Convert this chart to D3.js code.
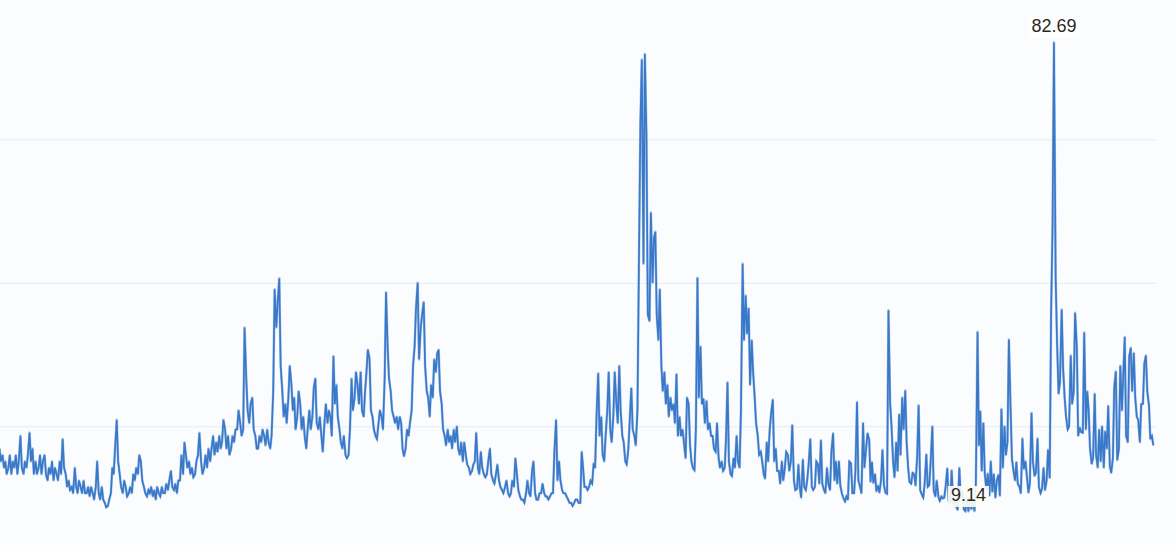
<!DOCTYPE html>
<html><head><meta charset="utf-8">
<script src="https://cdn.jsdelivr.net/npm/d3@7"></script>
<style>html,body{margin:0;padding:0;background:#fafcfe;overflow:hidden}</style>
</head><body><svg id="c" width="1176" height="545"></svg>
<script>
// Two readings per month (around day 8 and day 22), chronological, starting Jan 1991
const startYear = 1991;
const readingDays = [8, 22];
const vix1990s = [
  19,17, 18,16, 17,15, 16,18, 15,17, 16,18, 15,17, 21,16, 15,17, 16,18, 21.5,17, 19,15,
  17,15, 16,18, 15,17, 18,15, 14,16, 15,17, 14,16, 15,14, 17,15, 20.5,16, 15,13, 14,12.5,
  13,12, 16,13, 12,14, 13,12, 14,12, 12,13, 11.5,13, 12,11, 13,17, 12,11, 13,11, 10.5,9.8,
  10,11, 12,16, 15,19, 23.5,17, 15,13, 12,14, 13,11.5, 12,13, 12,15, 14,16, 15,18, 17,14,
  13,12, 11.5,12.5, 12,13, 11.5,12.5, 11,13, 12,11.5, 13,12, 12,13.5, 12.5,14, 15.5,13, 12.5,13.5, 12,14,
  14,18, 15,20, 18,16, 17,15, 16,14.5, 15,17, 18,21.5, 17,15, 16,18, 16,19, 17,19, 21,18,
  20,18.5, 21,19, 20,23.5, 22,19, 21,18, 19,21, 20,22, 22,25, 23,21, 22,38, 30,25, 23,26,
  27,22, 21,19, 19,21, 20,22, 21,19.5, 22,20, 19,21, 28,44, 38,42, 45.7,32, 28,24, 26,23,
  27,32, 29,25, 27,22, 24,28, 26,22, 24,21, 19,22, 25,22, 24,28.5, 30,23, 22,24, 21,18.5
];
const vix2000s = [
  23,26, 23,25, 24,21, 33.5,26, 29,24, 22,20, 19,21, 18,17.5, 18,22, 30,25, 27,31, 29,26,
  31,25, 24,28, 31,34.5, 33,25, 24,22, 21,20.5, 23,25, 24,22, 30,43.5, 35,30, 28,25, 24,23,
  24,22, 24,23, 19,17.8, 19,22, 21,23, 25,32, 35,41, 45,33, 38,40, 42,32, 28,27, 24,29,
  27,33, 31,34, 34.5,28, 26,22, 21,19.5, 22,20, 21,19, 22,20, 22.5,19, 18,20, 17,20, 18,16.5,
  16,15, 15.5,16.5, 17,21.5, 16,15, 18.5,16, 15,14.5, 15,17, 19,15, 14,13.5, 15,16.5, 14,13, 12.5,12,
  13,14, 12,11.5, 12,14, 13,17.5, 15,12.5, 11.5,11, 11,10.5, 12,14, 12,11.5, 15.5,17, 12,11, 11,12,
  12,13.5, 12,11.5, 11.5,11, 11.5,12, 12,18.5, 23.5,14, 17,14, 12.5,12, 12,11.5, 11,10.5, 10.5,10, 10.5,11,
  11,10.5, 10.5,18.5, 16,13, 13,12.5, 13,14, 13.5,16.5, 16,24, 30.8,21, 24,18, 17,21, 25,31, 22,20,
  24,31, 26,23, 32,25, 21,20, 17,16.5, 19,23.5, 28.5,22, 21,19.5, 25,46.7, 70,80, 48,80.86, 68,40,
  39,56, 45,52, 53,40, 36,44, 32,28, 31,26, 29,24, 27,25, 26,23, 30.7,21, 24,21, 22,20
];
const vix2010s = [
  17.5,27, 26,19.5, 17,16, 15.6,22, 45.8,27, 35,26, 26.8,23, 26.5,22, 23,21, 21,19, 18.5,23, 17.5,16,
  17,15.5, 16,21, 29.4,17, 15,14.7, 17.5,16, 21,17, 16,25, 48,36, 43,37, 41,29, 36,31, 27,23,
  21,18, 18.5,17, 15,14.3, 20,17, 22,24.5, 26.7,17, 19,15.5, 15.5,13.5, 17,14, 16,18.5, 18,15.5, 17,22.7,
  14,12.5, 12.7,16.5, 13,11.3, 17.3,13, 12.5,14, 17,20.5, 13,12.5, 13,17, 16.5,13.5, 20.3,13.5, 12.5,12, 16,13.5,
  12.5,18.5, 21.4,14, 17,13.5, 17,13.2, 12,11.3, 10.7,11.5, 11,17, 16.7,12, 12,15.5, 26.3,14, 13,12, 23,16,
  19,21.4, 20.4,13.8, 16.9,13.6, 15,12.3, 13.2,12.1, 14,18.8, 13.2,12.1, 11.9,40.7, 26,22.5, 17,14.5, 20,15.5, 24.4,18,
  27,22, 28.1,20, 16,13.8, 13.5,15.2, 15,13.2, 18,25.8, 12.5,11.9, 11.3,13.5, 18.1,13, 13.3,17, 22.5,12.4, 11.5,14,
  11.5,10.8, 11.5,11.2, 11.3,13, 15.9,10.8, 10.4,15.6, 10.3,11, 9.9,9.4, 16,11.3, 12.3,9.5, 9.2,11.3, 9.14,11.3, 9.5,11,
  9.2,13.5, 37.3,19.5, 24.9,15.5, 23,15.2, 12.6,15.1, 11.6,17, 12.2,15, 11.3,14, 14.9,11.6, 25.2,16, 22.5,18, 20,36.1,
  25.4,17.4, 15.4,14, 16.9,13.5, 13,12, 20.6,15.8, 17,14.7, 12.1,13.5, 24.6,17, 14.7,15.3, 20.6,13, 12,12.7, 16,12.5
];
const vix2020s = [
  14,18.8, 14.4,40.1, 54,82.69, 46,35.9, 27.6,29.5, 40.8,31.8, 27,24.1, 22,22.5, 33.6,26, 28,40.3, 35,21, 22.3,21.6,
  21.5,37.2, 22,28, 25,19, 16.6,17.6, 27.6,18, 16,22, 17,22.5, 16,21.7, 19,25.7, 16.3,15.2, 17.5,28.6, 31.1,17.2,
  19,32, 25,31, 36.5,21, 20,33.4, 34.8,28, 34,27, 24,23.5, 20,26, 26,32.3, 33.6,28, 25.8,20.5, 21,19.5
];
const gridValues = [22.5, 45, 67.5, 90];

const values = [].concat(vix1990s, vix2000s, vix2010s, vix2020s);
const data = values.map((v, i) => {
  const m = Math.floor(i / 2);
  return { date: new Date(startYear + Math.floor(m / 12), m % 12, readingDays[i % 2]), value: v };
});

const svg = d3.select("#c");
svg.append("rect").attr("width", 1176).attr("height", 545).attr("fill", "#fafcfe");

const x = d3.scaleTime().domain([new Date(1991, 0, 1), new Date(2023, 0, 1)]).range([-1.2, 1154.3]);
const y = d3.scaleLinear().domain([0, 90]).range([569.8, -4.2]);

// gridlines (axis itself sits outside the cropped view)
const gAxis = svg.append("g").attr("transform", "translate(-40,0)")
  .call(d3.axisLeft(y).tickValues(gridValues).tickSize(-1197).tickFormat(""));
gAxis.select(".domain").remove();
gAxis.selectAll(".tick line").attr("stroke", "#e6ecf3").attr("stroke-width", 1);

const line = d3.line().x(d => x(d.date)).y(d => y(d.value));
// soft underlay + main stroke to mimic the dense band of the original
svg.append("path").datum(data)
  .attr("fill", "none")
  .attr("stroke", "#6f9fe0")
  .attr("stroke-width", 2.6)
  .attr("stroke-opacity", 0.55)
  .attr("stroke-linejoin", "round")
  .attr("d", line);
svg.append("path").datum(data)
  .attr("fill", "none")
  .attr("stroke", "#3a78c8")
  .attr("stroke-width", 1.7)
  .attr("d", line);

// max / min labels
const maxD = data.reduce((a, b) => b.value > a.value ? b : a);
const minD = data.reduce((a, b) => b.value < a.value ? b : a);
[maxD, minD].forEach((d, k) => {
  const cx = x(d.date), by = y(d.value) - 10.5;
  const g = svg.append("g");
  const t = g.append("text")
    .attr("x", cx).attr("y", by)
    .attr("text-anchor", "middle")
    .attr("font-family", "Liberation Sans, Arial, sans-serif")
    .attr("font-size", 18)
    .attr("fill", "#2a2a22")
    .text(d3.format(".2f")(d.value).replace(/0$/, "").replace(/\.$/, ""));
  const bb = t.node().getBBox();
  g.insert("rect", "text")
    .attr("x", bb.x - 3).attr("y", bb.y + 1).attr("width", bb.width + 6).attr("height", bb.height + 1)
    .attr("fill", k === 0 ? "#ffffff" : "#fdfcf4").attr("opacity", 0.92);
});
</script>
</body></html>
